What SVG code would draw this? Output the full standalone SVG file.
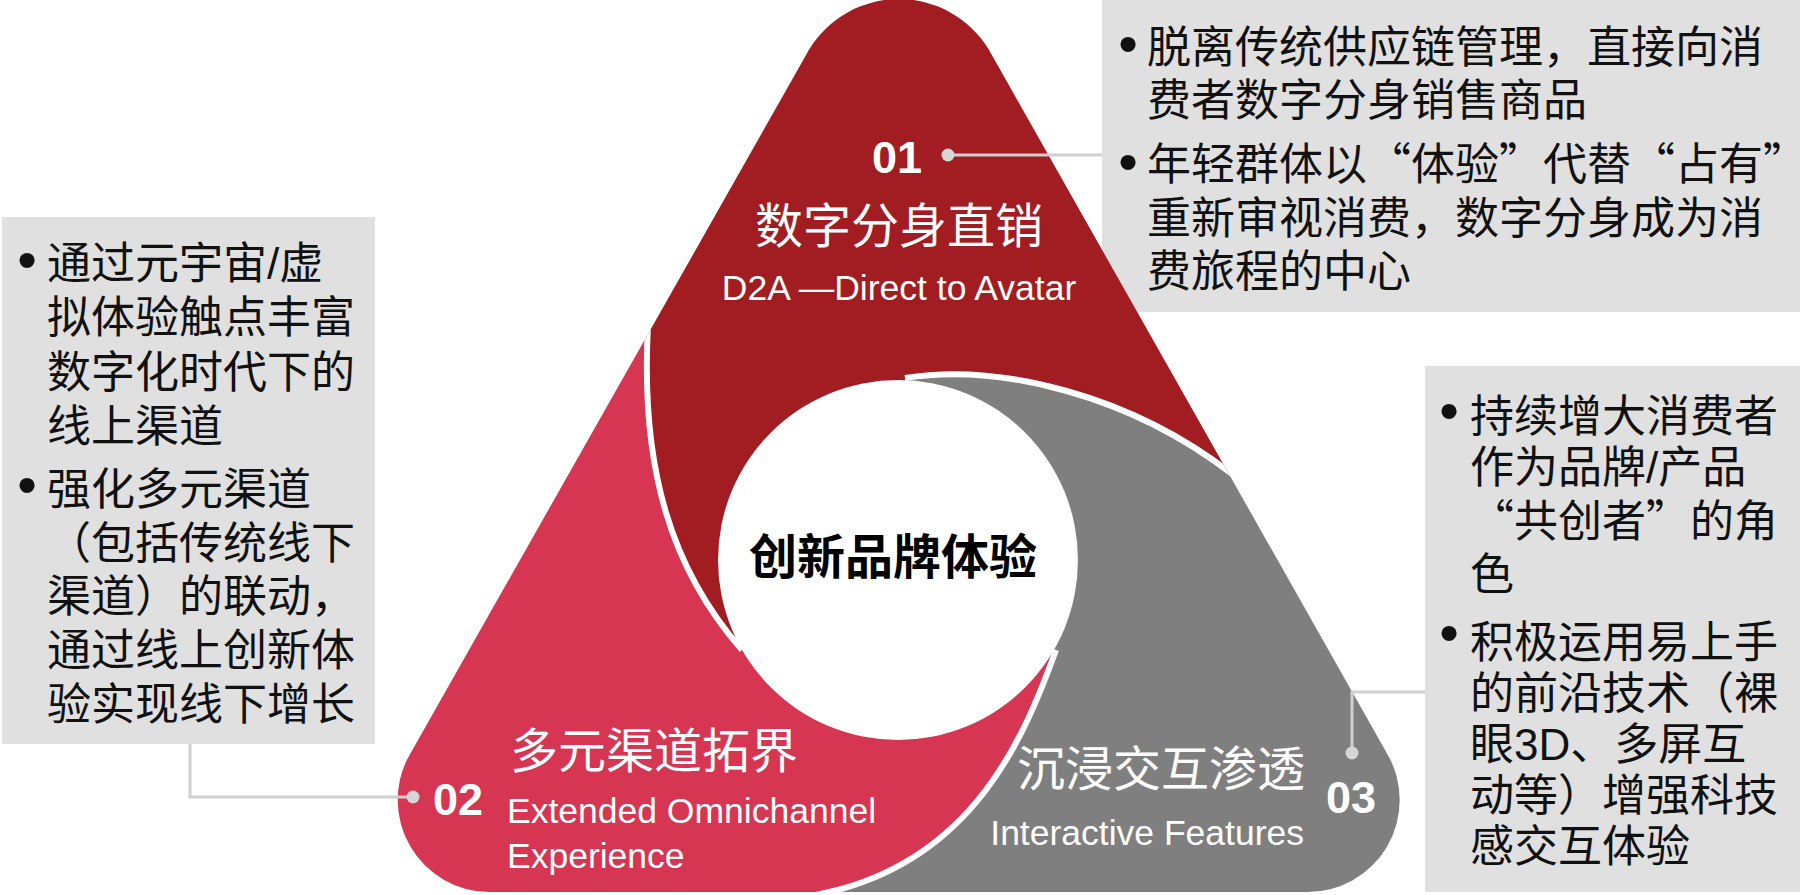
<svg xmlns="http://www.w3.org/2000/svg" width="1800" height="895" viewBox="0 0 1800 895">
<defs>
<style>
.box{fill:#E0E0E0}
.body{font-family:'Liberation Sans','Noto Sans CJK SC',sans-serif;font-size:44px;fill:#111}
.q{font-family:'Noto Sans CJK SC',sans-serif}
.bul{font-family:'Liberation Sans',sans-serif;font-size:56px;fill:#111;text-anchor:middle}
.title{font-family:'Liberation Sans','Noto Sans CJK SC',sans-serif;font-size:48px;fill:#fff}
.en{font-family:'Liberation Sans',sans-serif;font-size:35.5px;fill:#fff}
.num{font-family:'Liberation Sans',sans-serif;font-size:45px;font-weight:bold;fill:#fff}
.ctr{font-family:'Liberation Sans','Noto Sans CJK SC',sans-serif;font-size:48px;font-weight:bold;fill:#000;text-anchor:middle}
.conn{fill:none;stroke:#D0D0D0;stroke-width:3}
.dot{fill:#D6D6D6}
.sep{fill:none;stroke:#fff;stroke-width:6}
</style>
<clipPath id="tri">
<path d="M809.3,49.3 A105,105 0 0 1 988.6,49.3 L1387,753.4 A92,92 0 0 1 1306.1,892 L491.2,892 A92,92 0 0 1 410.4,753.4 Z"/>
</clipPath>
</defs>
<rect width="1800" height="895" fill="#fff"/>

<g id="box-top-right">
<rect class="box" x="1102" y="0" width="698" height="312"/>
<text class="bul" x="1128" y="63">•</text>
<text class="body" x="1147" y="63">脱离传统供应链管理，直接向消</text>
<text class="body" x="1147" y="116">费者数字分身销售商品</text>
<text class="bul" x="1128" y="181">•</text>
<text class="body" x="1147" y="180">年轻群体以<tspan class="q">“</tspan>体验<tspan class="q">”</tspan>代替<tspan class="q">“</tspan>占有<tspan class="q">”</tspan></text>
<text class="body" x="1147" y="234">重新审视消费，数字分身成为消</text>
<text class="body" x="1147" y="287">费旅程的中心</text>
</g>

<g id="box-left">
<rect class="box" x="2" y="217" width="373" height="527"/>
<text class="bul" x="27" y="279">•</text>
<text class="body" x="47" y="279">通过元宇宙/虚</text>
<text class="body" x="47" y="333">拟体验触点丰富</text>
<text class="body" x="47" y="388">数字化时代下的</text>
<text class="body" x="47" y="442">线上渠道</text>
<text class="bul" x="27" y="504">•</text>
<text class="body" x="47" y="505">强化多元渠道</text>
<text class="body" x="47" y="559">（包括传统线下</text>
<text class="body" x="47" y="612">渠道）的联动，</text>
<text class="body" x="47" y="666">通过线上创新体</text>
<text class="body" x="47" y="720">验实现线下增长</text>
</g>

<g id="box-bottom-right">
<rect class="box" x="1425" y="366" width="375" height="526"/>
<text class="bul" x="1449" y="430">•</text>
<text class="body" x="1470" y="432">持续增大消费者</text>
<text class="body" x="1470" y="483">作为品牌/产品</text>
<text class="body" x="1470" y="537"><tspan class="q">“</tspan>共创者<tspan class="q">”</tspan>的角</text>
<text class="body" x="1470" y="590">色</text>
<text class="bul" x="1449" y="652">•</text>
<text class="body" x="1470" y="658">积极运用易上手</text>
<text class="body" x="1470" y="709">的前沿技术（裸</text>
<text class="body" x="1470" y="760">眼3D、多屏互</text>
<text class="body" x="1470" y="811">动等）增强科技</text>
<text class="body" x="1470" y="862">感交互体验</text>
</g>

<g id="seg-01">
<path clip-path="url(#tri)" fill="#A11D21" d="M898,559 L905,378 C1000,363 1130,395 1232,474 L1300,527 L1500,-100 L300,-100 L640,280 L648,325 C640,470 672,570 742,650 Z"/>
</g>
<g id="seg-03">
<path clip-path="url(#tri)" fill="#7F7F7F" d="M898,559 L905,378 C1000,363 1130,395 1232,474 L1300,527 L1600,1000 L700,1000 L780,904 L825,893 C975,860 1025,735 1056,650 Z"/>
</g>
<g id="seg-02">
<path clip-path="url(#tri)" fill="#D63652" d="M898,559 L1056,650 C1025,735 975,860 825,893 L780,904 L700,1000 L0,1000 L0,500 L640,280 L648,325 C640,470 672,570 742,650 Z"/>
</g>
<g id="separators" clip-path="url(#tri)">
<path class="sep" d="M905,378 C1000,363 1130,395 1232,474 L1300,527"/>
<path class="sep" d="M1056,650 C1025,735 975,860 825,893 L760,907"/>
<path class="sep" d="M742,650 C672,570 640,470 648,325 L650,280"/>
</g>

<g id="center">
<circle cx="898" cy="560" r="180" fill="#fff"/>
<text class="ctr" x="893" y="574">创新品牌体验</text>
</g>

<g id="label-01">
<text class="num" x="897" y="173" text-anchor="middle">01</text>
<text class="title" x="899" y="243" text-anchor="middle">数字分身直销</text>
<text class="en" x="899" y="300" text-anchor="middle">D2A —Direct to Avatar</text>
</g>
<g id="label-02">
<text class="title" x="510" y="768">多元渠道拓界</text>
<text class="num" x="433" y="815">02</text>
<text class="en" x="507" y="823">Extended Omnichannel</text>
<text class="en" x="507" y="868">Experience</text>
</g>
<g id="label-03">
<text class="title" x="1305" y="786" text-anchor="end">沉浸交互渗透</text>
<text class="en" x="1304" y="845" text-anchor="end">Interactive Features</text>
<text class="num" x="1326" y="813">03</text>
</g>

<g id="connectors">
<path class="conn" d="M948,155 H1102"/>
<path class="conn" d="M190,744 V797 H413"/>
<path class="conn" d="M1352,753 V692 H1425"/>
<circle class="dot" cx="948" cy="155" r="6.5"/>
<circle class="dot" cx="413" cy="797" r="6.5"/>
<circle class="dot" cx="1352" cy="753" r="6.5"/>
</g>
</svg>
